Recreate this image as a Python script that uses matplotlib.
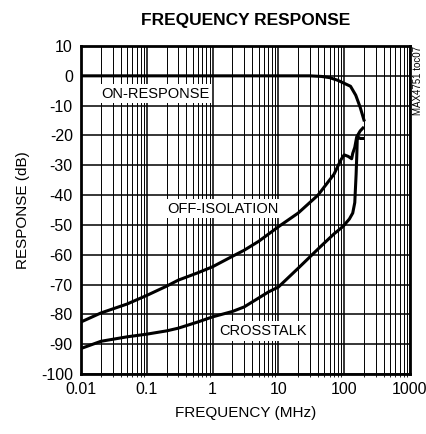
import matplotlib.pyplot as plt
import numpy as np

plt.rcParams['font.family'] = ['Liberation Sans Narrow', 'Liberation Sans', 'DejaVu Sans']
plt.rcParams['axes.unicode_minus'] = False

# 数据
on_freq = [0.01, 1, 10, 30, 45, 60, 80, 100, 125, 150, 175, 200]
on_db = [0, 0, 0, 0, -0.2, -0.6, -1.5, -2.5, -3.5, -6.5, -10.5, -14.8]

off_freq = [0.01, 0.02, 0.05, 0.1, 0.2, 0.3, 0.6, 1, 2, 3, 5, 10, 20, 40, 70, 90, 100,
            115, 130, 135, 145, 155, 175, 193]
off_db = [-82.5, -79.5, -76.5, -73.6, -70.5, -68.5, -66, -64, -60.5, -58.5, -55.5, -50.6,
          -46, -40, -33, -28, -26.5, -27, -27.8, -26, -24, -20.5, -18.5, -17.5]

xt_freq = [0.01, 0.02, 0.05, 0.1, 0.2, 0.3, 0.6, 1, 2, 3, 5, 7, 10, 20, 43, 70, 96,
           120, 135, 145, 152, 156, 158, 163, 175, 193]
xt_db = [-91.4, -89, -87.5, -86.6, -85.5, -84.6, -82.5, -80.8, -79, -77.5, -74.5, -72.5, -70.8,
         -64.5, -57.4, -53, -50.5, -48, -46, -42.5, -33, -26, -21.5, -20.5, -21, -21]

fig = plt.figure(figsize=(4.27, 4.34), dpi=100)
ax = fig.add_axes([0.19, 0.138, 0.77, 0.756])

ax.semilogx(on_freq, on_db, color='black', lw=2.2, zorder=5)
ax.semilogx(off_freq, off_db, color='black', lw=2.2, zorder=5)
ax.semilogx(xt_freq, xt_db, color='black', lw=2.2, zorder=5)

ax.set_xlim(0.01, 1000)
ax.set_ylim(-100, 10)
ax.set_yticks(np.arange(-100, 11, 10))
ax.set_xticks([0.01, 0.1, 1, 10, 100, 1000])
ax.set_xticklabels(['0.01', '0.1', '1', '10', '100', '1000'])
ax.tick_params(axis='both', length=0, labelsize=11.5, pad=6)

ax.grid(True, which='major', color='black', lw=1.1)
ax.grid(True, which='minor', axis='x', color='black', lw=0.7)
for s in ax.spines.values():
    s.set_linewidth(2)

ax.set_xlabel('FREQUENCY (MHz)', fontsize=11, labelpad=6)
ax.set_ylabel('RESPONSE (dB)', fontsize=11, labelpad=8)
ax.set_title('FREQUENCY RESPONSE', fontsize=12.5, fontweight='bold', pad=15)

box = dict(facecolor='white', edgecolor='none', pad=2)
ax.text(0.135, -6, 'ON-RESPONSE', fontsize=10.5, ha='center', va='center', bbox=box, zorder=6)
ax.text(1.45, -44.5, 'OFF-ISOLATION', fontsize=10.5, ha='center', va='center', bbox=box, zorder=6)
ax.text(5.8, -85.6, 'CROSSTALK', fontsize=10.5, ha='center', va='center', bbox=box, zorder=6)

fig.text(0.979, 0.815, 'MAX4751 toc07', fontsize=7, rotation=90, ha='center', va='center')

fig.savefig('out.png', dpi=100)
